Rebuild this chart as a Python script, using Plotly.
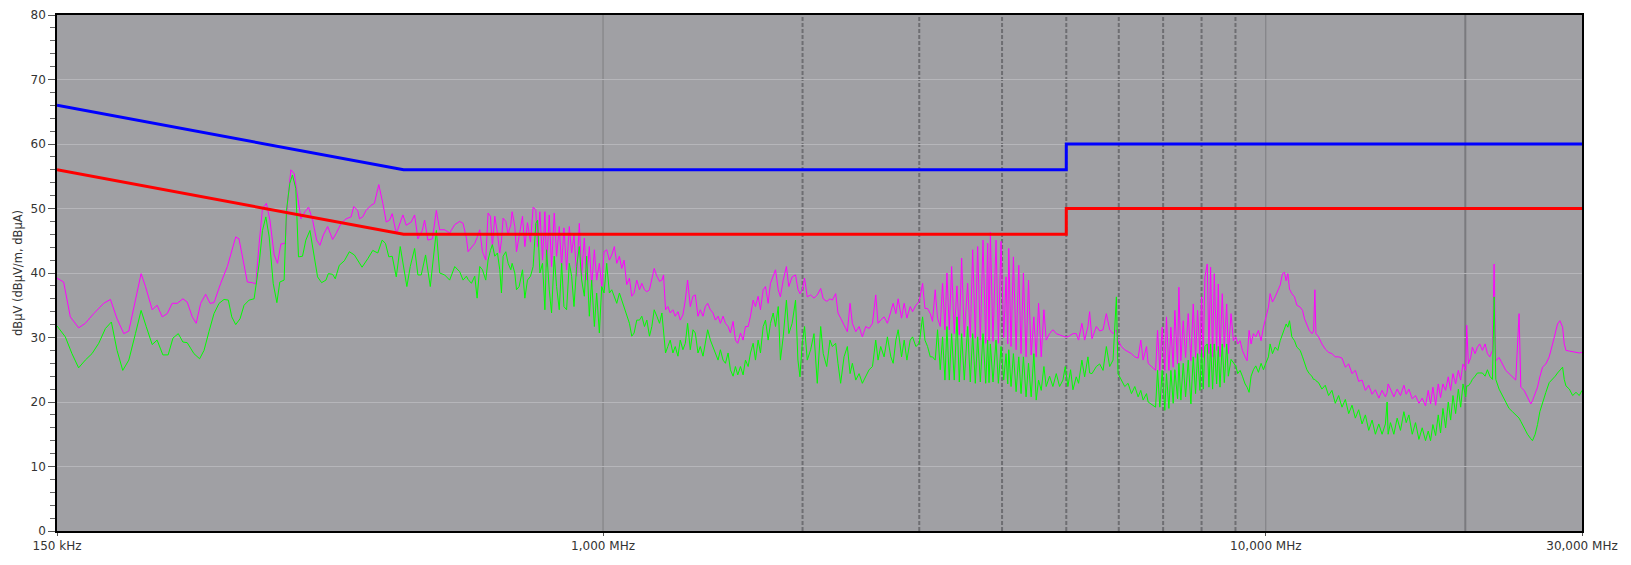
import numpy as np
import plotly.graph_objects as go

# --- limit lines (MHz, dBuV) ---
lim_freq = [0.15, 0.5, 5.0, 5.0, 30.0]
lim_qp = [66, 56, 56, 60, 60]
lim_av = [56, 46, 46, 50, 50]

# --- measured peak trace, 150 kHz .. 0.56 MHz ---
f_pk_low = [0.150, 0.1535, 0.1571, 0.1617, 0.1655, 0.1704, 0.1764, 0.1806, 0.1848, 0.1892,
            0.1925, 0.1970, 0.2009, 0.2040, 0.2088, 0.2124, 0.2162, 0.2200, 0.2238, 0.2278,
            0.2323, 0.2358, 0.2400, 0.2433, 0.2471, 0.2514, 0.2553, 0.2588, 0.2649, 0.2711,
            0.2743, 0.2791, 0.2823, 0.2863, 0.2906, 0.2958, 0.2993, 0.3028, 0.3063, 0.3105,
            0.3143, 0.3190, 0.3227, 0.3265, 0.3315, 0.3341, 0.3381, 0.3420, 0.3460, 0.3501,
            0.3550, 0.3595, 0.3646, 0.3697, 0.3740, 0.3784, 0.3841, 0.3908, 0.3955, 0.4025,
            0.4095, 0.4167, 0.4206, 0.4264, 0.4290, 0.4339, 0.4390, 0.4467, 0.4519, 0.4588,
            0.4653, 0.4708, 0.4763, 0.4807, 0.4875, 0.4932, 0.4989, 0.5047, 0.5136, 0.5196,
            0.5256, 0.5337, 0.5380, 0.5442, 0.5527, 0.5604]
pk_low = [39.2, 38.6, 33.2, 31.5, 32.2, 33.7, 35.3, 35.9, 32.9, 30.6,
          31.0, 36.0, 39.9, 37.9, 34.3, 35.0, 33.2, 33.7, 35.3, 35.3,
          36.0, 35.5, 33.2, 32.2, 35.3, 36.7, 35.3, 35.4, 38.4, 41.0,
          43.0, 45.6, 45.3, 42.0, 38.6, 38.5, 38.3, 44.6, 50.0, 50.8,
          48.2, 42.8, 41.5, 44.5, 44.6, 50.8, 56.0, 55.4, 51.8, 48.4,
          49.5, 50.2, 48.2, 45.1, 44.3, 45.9, 47.2, 45.2, 46.1, 47.7,
          48.4, 48.7, 50.3, 49.7, 48.4, 48.7, 49.7, 50.5, 50.8, 53.7,
          50.8, 47.9, 48.2, 49.2, 46.1, 47.7, 49.0, 47.4, 47.9, 49.0,
          45.3, 46.6, 48.2, 45.1, 45.3, 49.7]

# --- measured average trace, 150 kHz .. 0.56 MHz ---
f_av_low = [0.150, 0.1544, 0.1580, 0.1617, 0.1655, 0.1694, 0.1734, 0.1775, 0.1812, 0.1848,
            0.1885, 0.1925, 0.1970, 0.2009, 0.2045, 0.2088, 0.2124, 0.2167, 0.2207, 0.2244,
            0.2286, 0.2323, 0.2358, 0.2414, 0.2462, 0.2500, 0.2543, 0.2588, 0.2634, 0.2680,
            0.2720, 0.2753, 0.2791, 0.2833, 0.2873, 0.2924, 0.2975, 0.3028, 0.3063, 0.3099,
            0.3135, 0.3179, 0.3220, 0.3253, 0.3302, 0.3329, 0.3368, 0.3399, 0.3439, 0.3471,
            0.3520, 0.3561, 0.3612, 0.3654, 0.3709, 0.3761, 0.3819, 0.3850, 0.3908, 0.3944,
            0.4000, 0.4071, 0.4142, 0.4215, 0.4329, 0.4415, 0.4493, 0.4572, 0.4642, 0.4696,
            0.4751, 0.4807, 0.4875, 0.4943, 0.5001, 0.5058, 0.5118, 0.5196, 0.5256, 0.5317,
            0.5398, 0.5487, 0.5604]
av_low = [31.8, 30.1, 27.5, 25.3, 26.5, 27.5, 29.1, 31.4, 32.4, 28.0,
          24.9, 26.5, 30.6, 34.2, 31.7, 28.9, 29.6, 27.3, 27.3, 29.9,
          30.6, 29.3, 29.2, 27.5, 26.7, 28.0, 30.9, 33.7, 35.3, 35.9,
          35.8, 33.2, 32.0, 32.9, 35.0, 35.8, 36.0, 41.5, 46.6, 48.7,
          45.6, 38.4, 35.4, 38.6, 38.9, 49.7, 53.9, 55.2, 53.1, 42.5,
          42.6, 45.1, 46.6, 43.5, 39.4, 38.5, 38.9, 39.9, 39.8, 39.1,
          41.2, 41.9, 43.3, 42.8, 40.9, 42.2, 43.5, 43.1, 45.1, 44.6,
          42.5, 42.6, 39.4, 44.1, 41.2, 37.9, 41.0, 43.8, 39.7, 39.7,
          42.8, 37.9, 46.6]

# --- 0.57 .. 30 MHz, both detectors on the same frequency points ---
f_hi = [0.5669, 0.5768, 0.5869, 0.5973, 0.6078, 0.6149, 0.6221, 0.6257, 0.6330, 0.6404,
        0.6456, 0.6516, 0.6577, 0.6653, 0.6707, 0.6762, 0.6809, 0.6865, 0.6929, 0.6985,
        0.7026, 0.7067, 0.7133, 0.7191, 0.7258, 0.7292, 0.7360, 0.7403, 0.7471, 0.7559,
        0.7621, 0.7691, 0.7772, 0.7844, 0.7917, 0.7964, 0.8030, 0.8104, 0.8171, 0.8219,
        0.8295, 0.8362, 0.8441, 0.8510, 0.8589, 0.8660, 0.8729, 0.8810, 0.8894, 0.8966,
        0.9040, 0.9124, 0.9209, 0.9284, 0.9371, 0.9447, 0.9535, 0.9613, 0.9703, 0.9781,
        0.9873, 0.9954, 1.0035, 1.0128, 1.0223, 1.0307, 1.0402, 1.0488, 1.0585, 1.0671,
        1.0759, 1.0859, 1.0960, 1.1050, 1.1140, 1.1243, 1.1350, 1.1442, 1.1548, 1.1644,
        1.1751, 1.1847, 1.1945, 1.2056, 1.2167, 1.2268, 1.2339, 1.2425, 1.2525, 1.2629,
        1.2746, 1.2850, 1.2972, 1.3077, 1.3198, 1.3308, 1.3416, 1.3541, 1.3668, 1.3779,
        1.3907, 1.4019, 1.4152, 1.4267, 1.4383, 1.4519, 1.4654, 1.4773, 1.4912, 1.5034,
        1.5173, 1.5299, 1.5441, 1.5566, 1.5712, 1.5840, 1.5968, 1.6119, 1.6268, 1.6401,
        1.6557, 1.6690, 1.6845, 1.6982, 1.7140, 1.7279, 1.7443, 1.7584, 1.7747, 1.7891,
        1.8061, 1.8207, 1.8380,
        1.852, 1.870, 1.891, 1.907, 1.929, 1.952, 1.968, 1.982, 1.998, 2.014,
        2.033, 2.057, 2.081, 2.105, 2.130, 2.149, 2.175, 2.200, 2.218, 2.244,
        2.262, 2.283, 2.310, 2.337, 2.359, 2.378, 2.406, 2.434, 2.462, 2.491,
        2.520, 2.550, 2.579, 2.600, 2.624, 2.655, 2.686, 2.718, 2.740, 2.766,
        2.788, 2.821, 2.847, 2.874, 2.907, 2.931, 2.965, 3.000, 3.035, 3.060,
        3.088, 3.117, 3.142, 3.171, 3.197, 3.227, 3.253, 3.280, 3.303, 3.330,
        3.357, 3.388, 3.420, 3.448, 3.476, 3.508, 3.549, 3.582, 3.612, 3.645,
        3.675, 3.709, 3.744, 3.779, 3.805, 3.823, 3.841, 3.876, 3.917, 3.949,
        3.986, 4.023, 4.056, 4.080, 4.094, 4.127, 4.161, 4.200, 4.239, 4.273,
        4.308, 4.348, 4.385, 4.426, 4.467, 4.504, 4.541, 4.583, 4.626, 4.663,
        4.718, 4.773, 4.829, 4.885, 4.942, 4.982, 5.028, 5.075, 5.117, 5.176,
        5.218, 5.279, 5.329, 5.391, 5.422, 5.467, 5.550, 5.615, 5.681, 5.747,
        5.814, 5.882, 5.951, 5.985, 6.055, 6.126, 6.197, 6.270, 6.344, 6.418,
        6.477, 6.530, 6.607, 6.645,
        6.818, 6.866, 6.920, 6.977, 7.041, 7.082, 7.141, 7.191, 7.249, 7.291,
        7.360, 7.394, 7.445, 7.506, 7.568, 7.638, 7.709, 7.772, 7.835, 7.890,
        7.955, 8.001, 8.047, 8.094, 8.160, 8.208, 8.255, 8.313, 8.361, 8.430,
        8.479, 8.528, 8.597, 8.658, 8.730, 8.780, 8.863, 8.935, 9.008, 9.071,
        9.146, 9.220, 9.306, 9.371, 9.436, 9.502, 9.579, 9.658, 9.748, 9.838,
        9.919, 10.000, 10.093, 10.151, 10.235, 10.330, 10.427, 10.512, 10.597, 10.671,
        10.734, 10.796, 10.859, 10.947, 11.050, 11.140, 11.270, 11.362, 11.441, 11.535,
        11.629, 11.737, 11.805, 11.860, 11.901, 12.013, 12.153, 12.295, 12.438, 12.583,
        12.731, 12.879, 13.032, 13.183, 13.338, 13.493, 13.649, 13.810, 13.970, 14.135,
        14.299, 14.468, 14.635, 14.808, 14.979, 15.153, 15.244, 15.297, 15.421, 15.603,
        15.784, 15.968, 16.157, 16.288, 16.439, 16.633, 16.825, 17.023, 17.219, 17.418,
        17.584, 17.726, 17.870, 18.040, 18.206, 18.353, 18.506, 18.678, 18.851, 19.008,
        19.162, 19.339, 19.523, 19.681, 19.841, 20.029, 20.099, 20.215, 20.378, 20.496,
        20.691, 20.859, 21.028, 21.227, 21.424, 21.598, 21.778, 21.979, 22.106, 22.234,
        22.491, 22.751, 23.018, 23.285, 23.560, 23.833, 24.109, 24.254, 24.534, 24.824,
        25.112, 25.257, 25.495, 25.704, 25.912, 26.158, 26.461, 26.768, 27.085, 27.336,
        27.558, 27.788, 28.045, 28.206, 28.373, 28.710, 29.043, 29.380, 29.717, 30.000]

pk_hi = [46.7, 46.7, 46.2, 47.5, 48.0, 47.7, 45.4, 43.3, 43.9, 44.6,
         45.5, 46.7, 43.3, 42.0, 49.3, 48.8, 44.1, 48.8, 46.2, 43.1,
         45.0, 48.5, 48.0, 46.0, 47.5, 49.5, 47.2, 43.3, 45.7, 48.8,
         44.1, 47.8, 44.8, 50.2, 49.8, 44.1, 49.5, 42.0, 49.5, 41.0,
         49.0, 41.0, 49.3, 42.6, 47.2, 41.0, 47.0, 40.5, 47.2, 43.1,
         45.9, 39.5, 47.7, 39.5, 45.4, 38.9, 44.1, 37.9, 43.6, 38.9,
         41.5, 37.9, 43.3, 43.6, 42.0, 42.8, 44.1, 41.5, 42.6, 40.7,
         42.0, 38.2, 39.2, 36.4, 36.9, 38.9, 37.4, 38.4, 37.4, 37.1,
         37.4, 38.9, 40.7, 39.5, 38.7, 38.9, 39.7, 34.3, 34.8, 33.8,
         34.3, 33.3, 34.0, 32.7, 33.5, 35.8, 38.9, 34.8, 36.4, 36.6,
         33.3, 34.3, 33.3, 34.8, 35.3, 34.3, 33.8, 32.7, 33.3, 32.2,
         33.3, 32.2, 31.7, 30.7, 32.5, 29.6, 29.1, 30.7, 29.6, 31.7,
         31.7, 33.3, 35.8, 34.8, 36.4, 34.3, 37.4, 37.9, 35.3, 38.4,
         39.5, 40.5, 37.4,
         36.3, 38.9, 41.0, 37.9, 39.4, 39.7, 37.5, 36.8, 37.4, 39.2,
         36.3, 36.6, 36.1, 36.6, 37.6, 36.0, 35.6, 36.0, 35.8, 36.8,
         33.8, 33.0, 31.8, 30.9, 35.3, 32.2, 30.9, 31.7, 30.1, 31.7,
         31.4, 32.2, 36.6, 32.2, 32.7, 33.2, 32.2, 34.3, 35.3, 33.7,
         36.0, 33.0, 35.3, 33.0, 34.8, 34.0, 35.0, 35.6, 38.4, 34.5,
         34.5, 33.7, 32.5, 37.4, 33.0, 31.7, 38.4, 31.2, 40.0, 31.2,
         41.0, 30.6, 38.0, 30.4, 42.3, 30.1, 38.4, 30.0, 43.6, 29.9,
         44.1, 29.6, 45.1, 29.1, 44.6, 29.5, 46.3, 29.4, 45.1, 29.1,
         44.9, 30.0, 39.4, 29.0, 43.8, 28.6, 42.5, 28.1, 41.2, 27.5,
         40.0, 27.0, 38.9, 27.3, 33.2, 27.0, 35.3, 27.0, 34.3, 29.6,
         30.6, 31.2, 30.6, 30.4, 30.2, 30.1, 30.1, 30.3, 30.6, 30.6,
         29.6, 32.2, 29.6, 31.7, 34.0, 29.8, 31.7, 31.0, 31.2, 33.7,
         31.2, 30.6, 31.2, 29.6, 28.6, 28.1, 27.8, 27.5, 27.0, 26.8,
         29.6, 26.5, 28.6, 26.0,
         24.9, 31.1, 24.9, 31.6, 24.9, 33.2, 24.9, 31.6, 25.4, 34.2,
         25.9, 37.8, 26.4, 32.6, 26.9, 33.7, 26.4, 35.2, 26.9, 34.2,
         27.5, 36.3, 26.9, 39.4, 41.4, 27.5, 40.9, 27.0, 39.9, 28.0,
         38.3, 27.0, 36.8, 28.5, 35.2, 27.5, 33.7, 29.5, 30.1, 29.0,
         29.5, 28.0, 27.0, 26.4, 31.1, 29.0, 30.6, 30.1, 31.1, 29.5,
         31.6, 33.2, 34.7, 36.8, 35.5, 36.3, 37.3, 38.1, 39.9, 40.1,
         38.8, 39.9, 37.5, 36.8, 36.3, 35.0, 34.7, 34.2, 32.9, 32.1,
         31.1, 30.6, 31.0, 37.4, 30.6, 30.1, 29.0, 28.2, 27.7, 27.5,
         27.0, 27.0, 26.8, 25.4, 25.9, 24.4, 24.9, 23.2, 23.4, 21.8,
         22.6, 21.2, 21.9, 20.6, 21.8, 20.8, 21.5, 22.8, 21.9, 20.8,
         22.0, 21.0, 22.6, 21.2, 22.0, 20.5, 21.0, 19.8, 20.6, 19.4,
         21.8, 19.7, 22.3, 19.5, 22.8, 20.7, 22.8, 21.8, 23.9, 21.8,
         24.4, 22.8, 24.9, 23.4, 25.9, 24.9, 31.9, 25.9, 26.9, 28.5,
         27.5, 28.5, 29.0, 28.0, 29.0, 27.5, 27.0, 28.0, 41.4, 26.4,
         26.9, 25.9, 24.9, 24.4, 23.9, 23.4, 33.7, 22.3, 21.8, 20.7,
         19.7, 20.2, 21.3, 22.3, 23.9, 25.4, 25.9, 27.0, 29.0, 30.6,
         32.1, 32.6, 31.6, 29.0, 28.0, 27.9, 27.8, 27.8, 27.6, 27.7]

av_hi = [40.0, 39.7, 38.9, 41.0, 40.2, 38.9, 39.5, 39.0, 38.4, 39.5,
         36.1, 41.0, 40.5, 38.9, 42.0, 43.5, 44.4, 42.6, 43.1, 40.5,
         36.9, 42.6, 43.3, 41.5, 40.5, 41.5, 40.0, 37.4, 37.9, 40.5,
         36.1, 38.9, 39.5, 41.0, 47.7, 48.2, 40.0, 41.5, 34.3, 43.6,
         37.4, 33.8, 42.6, 37.9, 34.3, 41.5, 34.8, 34.3, 41.5, 39.5,
         34.8, 41.0, 44.1, 38.9, 36.4, 42.6, 33.3, 38.9, 31.7, 36.9,
         30.7, 37.9, 36.9, 41.5, 36.9, 37.4, 36.4, 35.3, 36.9, 35.8,
         34.8, 33.8, 32.2, 30.2, 30.7, 32.7, 32.7, 33.3, 31.7, 32.7,
         30.2, 31.7, 34.3, 33.3, 32.2, 33.8, 31.2, 27.6, 28.6, 29.6,
         27.6, 28.6, 27.1, 29.6, 28.1, 29.1, 32.2, 28.1, 31.2, 30.7,
         27.6, 28.6, 27.1, 29.1, 31.2, 29.6, 28.6, 27.6, 26.5, 28.1,
         26.5, 26.0, 27.6, 25.0, 24.0, 25.5, 24.2, 25.5, 24.2, 26.5,
         25.5, 27.6, 29.1, 26.5, 29.6, 27.6, 31.7, 32.7, 29.6, 32.2,
         33.8, 31.7, 34.8,
         26.5, 30.1, 35.8, 30.6, 32.2, 35.8, 26.5, 23.9, 29.1, 31.7,
         26.5, 28.1, 30.6, 22.9, 31.7, 27.5, 25.5, 29.6, 28.6, 29.1,
         26.0, 22.9, 27.0, 28.6, 24.4, 26.0, 23.4, 24.4, 22.9, 23.9,
         25.0, 25.5, 29.6, 26.5, 28.6, 27.0, 30.1, 27.0, 26.0, 29.6,
         31.2, 27.0, 29.6, 26.5, 29.6, 30.1, 28.6, 29.1, 33.2, 29.6,
         28.6, 27.0, 27.0, 26.5, 31.2, 25.0, 30.1, 23.4, 31.7, 23.4,
         30.6, 23.4, 33.2, 23.1, 30.6, 23.4, 31.7, 23.1, 30.6, 22.9,
         30.1, 23.1, 30.6, 22.9, 29.6, 23.0, 29.0, 23.1, 29.6, 22.9,
         28.6, 23.4, 27.5, 22.8, 28.1, 22.4, 27.5, 21.6, 27.0, 21.3,
         27.0, 20.8, 26.0, 20.8, 27.5, 20.3, 23.4, 21.8, 25.5, 22.4,
         24.0, 22.4, 24.4, 22.4, 23.4, 25.5, 22.4, 25.0, 21.9, 23.9,
         22.9, 26.5, 23.9, 27.0, 24.5, 24.4, 25.5, 25.9, 24.9, 28.6,
         25.5, 26.5, 36.3, 24.4, 23.4, 22.4, 22.9, 21.3, 22.4, 20.8,
         21.8, 20.3, 21.3, 20.0,
         19.2, 24.9, 19.2, 24.9, 18.7, 24.4, 19.0, 24.9, 19.8, 25.0,
         20.5, 26.0, 20.3, 26.0, 20.8, 26.5, 19.7, 27.0, 21.3, 27.5,
         21.8, 28.1, 22.0, 28.6, 29.0, 22.3, 29.0, 22.0, 29.0, 22.8,
         28.6, 22.3, 29.0, 23.0, 29.0, 24.0, 26.6, 26.0, 25.6, 24.4,
         24.9, 24.0, 22.8, 22.3, 21.5, 24.0, 25.0, 25.6, 24.6, 26.0,
         25.0, 26.0, 27.0, 29.0, 27.5, 28.5, 28.0, 29.5, 30.6, 31.6,
         32.1, 31.6, 32.6, 30.1, 29.5, 28.5, 28.0, 27.0, 26.0, 25.0,
         24.4, 24.0, 23.5, 23.5, 23.3, 23.0, 22.0, 22.6, 21.0, 21.8,
         19.8, 21.0, 19.2, 20.4, 18.2, 19.5, 17.5, 18.8, 16.6, 18.0,
         15.6, 17.2, 15.0, 16.6, 15.0, 16.6, 20.0, 15.0, 16.8, 15.0,
         17.5, 15.6, 18.5, 16.8, 18.0, 15.0, 16.8, 14.2, 16.0, 14.0,
         15.5, 14.0, 16.5, 14.8, 18.0, 15.2, 19.0, 16.0, 20.0, 17.2,
         21.0, 18.2, 22.0, 19.2, 22.8, 20.8, 22.5, 22.5, 23.0, 23.5,
         24.0, 24.5, 24.5, 24.5, 24.0, 25.0, 24.0, 23.5, 36.3, 23.5,
         22.0, 21.0, 20.0, 19.0, 18.5, 18.0, 17.5, 17.0, 16.0, 15.0,
         14.3, 14.0, 15.0, 16.5, 18.5, 20.0, 21.5, 23.0, 23.5, 24.0,
         24.5, 25.0, 25.4, 23.5, 22.5, 22.0, 21.0, 21.5, 21.0, 21.8]

# vertical reference lines (MHz)
grid_thin = [1, 10]
grid_dotted = [2, 3, 4, 5, 6, 7, 8, 9]
grid_thick = [20]

x_tickvals = [0.15, 1, 10, 30]
x_ticktext = ['150 kHz', '1,000 MHz', '10,000 MHz', '30,000 MHz']

FONT = 'DejaVu Sans, Verdana, sans-serif'

fig = go.Figure()

fig.add_trace(go.Scatter(
    x=f_pk_low + f_hi, y=pk_low + pk_hi, mode='lines',
    line=dict(color='#FF00FF', width=1), name='Peak', hoverinfo='x+y'))
fig.add_trace(go.Scatter(
    x=f_av_low + f_hi, y=av_low + av_hi, mode='lines',
    line=dict(color='#00FF00', width=1), name='Average', hoverinfo='x+y'))
fig.add_trace(go.Scatter(
    x=lim_freq, y=lim_qp, mode='lines',
    line=dict(color='#0000FF', width=3), name='QP limit'))
fig.add_trace(go.Scatter(
    x=lim_freq, y=lim_av, mode='lines',
    line=dict(color='#FF0000', width=3), name='AV limit'))

shapes = []
for f in grid_thin:
    shapes.append(dict(type='line', xref='x', yref='paper', x0=f, x1=f, y0=0, y1=1,
                       line=dict(color='#7E7E82', width=1), layer='below'))
for f in grid_dotted:
    shapes.append(dict(type='line', xref='x', yref='paper', x0=f, x1=f, y0=0, y1=1,
                       line=dict(color='#6E6E72', width=2, dash='4px,2px'), layer='below'))
for f in grid_thick:
    shapes.append(dict(type='line', xref='x', yref='paper', x0=f, x1=f, y0=0, y1=1,
                       line=dict(color='#7A7A7E', width=2), layer='below'))

# the page body keeps its default 8px margin, so the figure is 16px smaller
fig.update_layout(
    width=1615, height=549,
    paper_bgcolor='white',
    plot_bgcolor='#A0A0A4',
    showlegend=False,
    margin=dict(l=49, r=41, t=7, b=26, autoexpand=False),
    shapes=shapes,
    xaxis=dict(
        type='log', automargin=False,
        range=[np.log10(0.15), np.log10(30)],
        tickvals=x_tickvals, ticktext=x_ticktext,
        tickfont=dict(family=FONT, size=12, color='#333333'),
        ticks='outside', ticklen=3, tickcolor='#555555',
        showgrid=False, zeroline=False,
        showline=True, mirror=True, linecolor='black', linewidth=1.5,
    ),
    yaxis=dict(
        range=[0, 80], dtick=10, automargin=False,
        tickfont=dict(family=FONT, size=12, color='#333333'),
        ticks='outside', ticklen=7, tickcolor='#555555',
        minor=dict(dtick=2, ticks='outside', ticklen=5, tickcolor='#666666', showgrid=False),
        showgrid=True, gridcolor='#B6B6BA', gridwidth=1,
        zeroline=False,
        showline=True, mirror=True, linecolor='black', linewidth=1.5,
        title=dict(text='dBµV (dBµV/m, dBµA)', standoff=6,
                   font=dict(family=FONT, size=11.5, color='#333333')),
    ),
)

fig.write_html('out.html')
